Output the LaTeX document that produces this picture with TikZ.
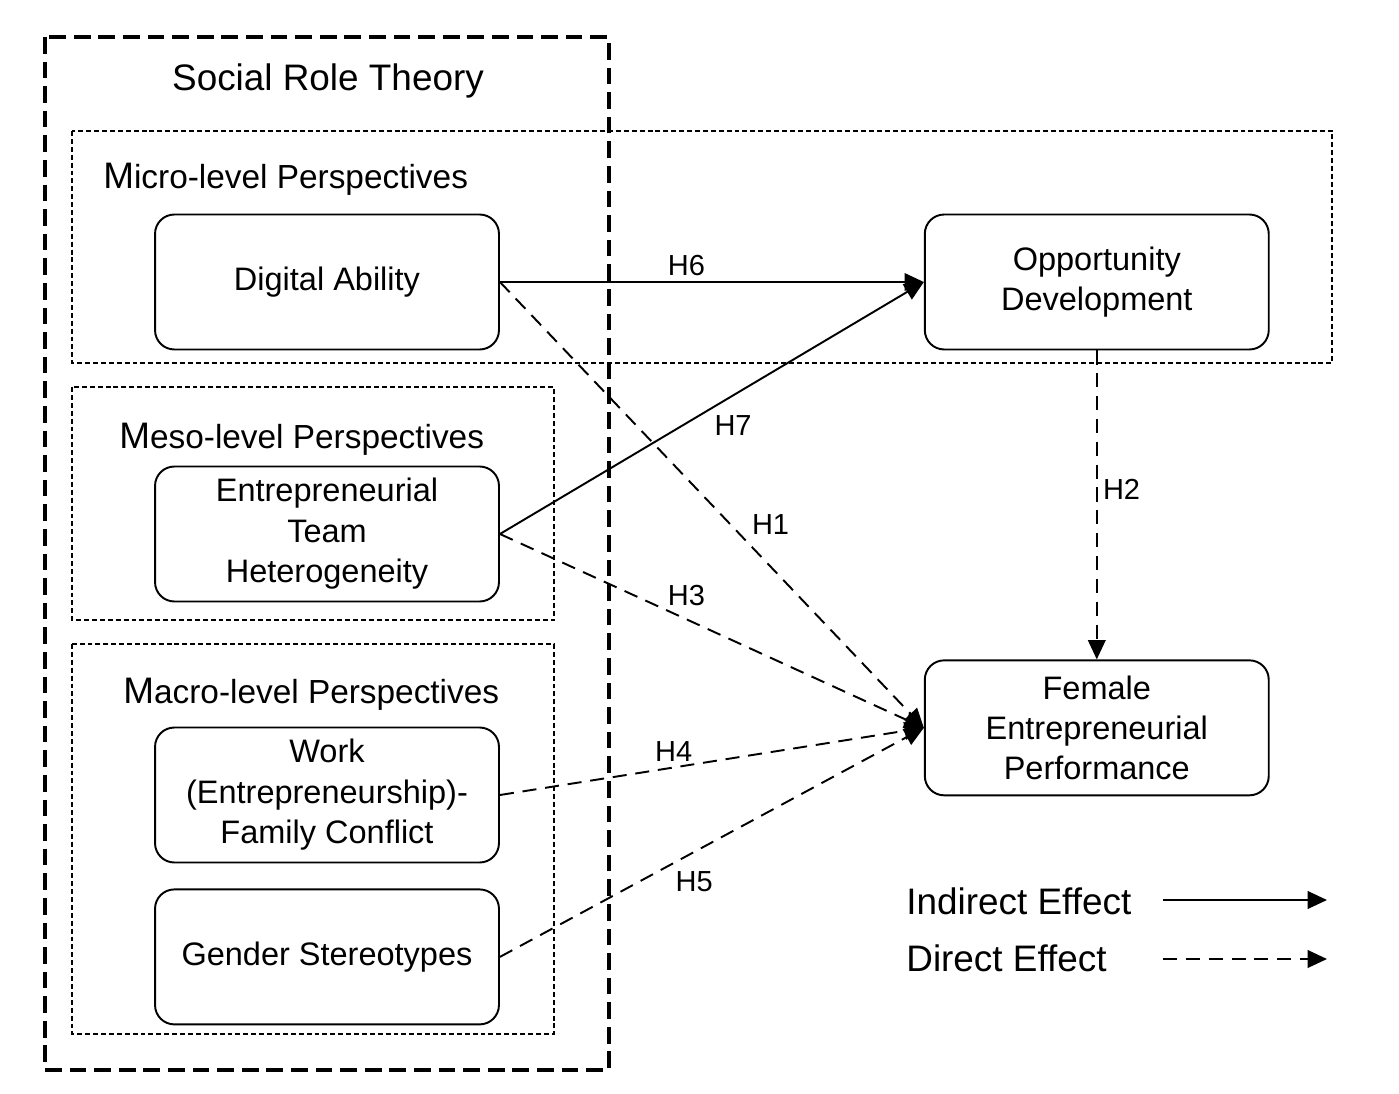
\documentclass[tikz,border=0pt]{standalone}
\usepackage{fontspec}
\setmainfont{Liberation Sans}
\usetikzlibrary{arrows.meta, positioning}
\newcommand{\lvlM}{{\fontsize{21}{24}\selectfont M}}

\begin{document}
\begin{tikzpicture}[
      x=0.02cm, y=-0.02cm,
      node distance=1cm and 1cm,
      var/.style={draw, line width=1.1pt, rounded corners=11pt, align=center, minimum width=6.88cm, minimum height=2.7cm, inner sep=2pt, font=\fontsize{18.5}{23}\selectfont},
      theory/.style={line width=2pt, dash pattern=on 9.5pt off 4.5pt},
      level/.style={line width=0.6pt, dash pattern=on 2.8pt off 1.7pt},
      lvl/.style={anchor=west, inner sep=0pt, font=\fontsize{19}{22}\selectfont},
      hyp/.style={inner sep=3pt, font=\fontsize{16.5}{18}\selectfont},
      legend/.style={anchor=west, inner sep=0pt, font=\fontsize{21}{24}\selectfont},
      ind/.style={-{Triangle[length=11pt, width=10pt]}, line width=1.1pt},
      dir/.style={ind, dash pattern=on 8pt off 5pt}
    ]
    \useasboundingbox (0,0) rectangle (1399,1094);

    % level frames
    \draw[level] (72,131) rectangle (1332,363);
    \draw[level] (72,387) rectangle (554,620);
    \draw[level] (72,644) rectangle (554,1034);
    \draw[theory] (45,37) rectangle (609,1070);

    \node[inner sep=0pt, font=\fontsize{21}{24}\selectfont] (srt) at (328,81) {Social Role Theory};
    \node[lvl] (micro) at (103,179) {\lvlM{}icro-level Perspectives};
    \node[lvl] (meso)  at (119,439) {\lvlM{}eso-level Perspectives};
    \node[lvl] (macro) at (123,694) {\lvlM{}acro-level Perspectives};

    % variables
    \node[var] (da)  at (327,282) {Digital Ability};
    \node[var] (eth) at (327,534) {Entrepreneurial\\Team\\Heterogeneity};
    \node[var] (wfc) at (327,795) {Work\\(Entrepreneurship)-\\Family Conflict};
    \node[var, below=0.5cm of wfc] (gs) {Gender Stereotypes};
    \node[var, right=8.48cm of da] (od) {Opportunity\\Development};
    \node[var, below=6.18cm of od] (fep) {Female\\Entrepreneurial\\Performance};

    \draw[ind] (da.east) -- node[hyp, pos=0.44, above] {H6} (od.west);
    \draw[ind] (eth.east) -- node[hyp, pos=0.55, below=8pt] {H7} (od.west);
    \draw[dir] (da.east) -- node[hyp, pos=0.58, above right=0pt] {H1} (fep.west);
    \draw[dir] (od.south) -- node[hyp, pos=0.45, right] {H2} (fep.north);
    \draw[dir] (eth.east) -- node[hyp, pos=0.44, above=4pt] {H3} (fep.west);
    \draw[dir] (wfc.east) -- node[hyp, pos=0.41, above] {H4} (fep.west);
    \draw[dir] (gs.east) -- node[hyp, pos=0.4, below right=0pt] {H5} (fep.west);

    % legend
    \node[legend] (indl) at (906,901) {Indirect Effect};
    \node[legend] (dirl) at (906,958) {Direct Effect};
    \coordinate (ind-a) at (1163,900);
    \coordinate (ind-b) at (1327,900);
    \coordinate (dir-a) at (1163,959);
    \coordinate (dir-b) at (1327,959);
    \draw[ind] (ind-a) -- (ind-b);
    \draw[dir] (dir-a) -- (dir-b);
  \end{tikzpicture}
\end{document}
